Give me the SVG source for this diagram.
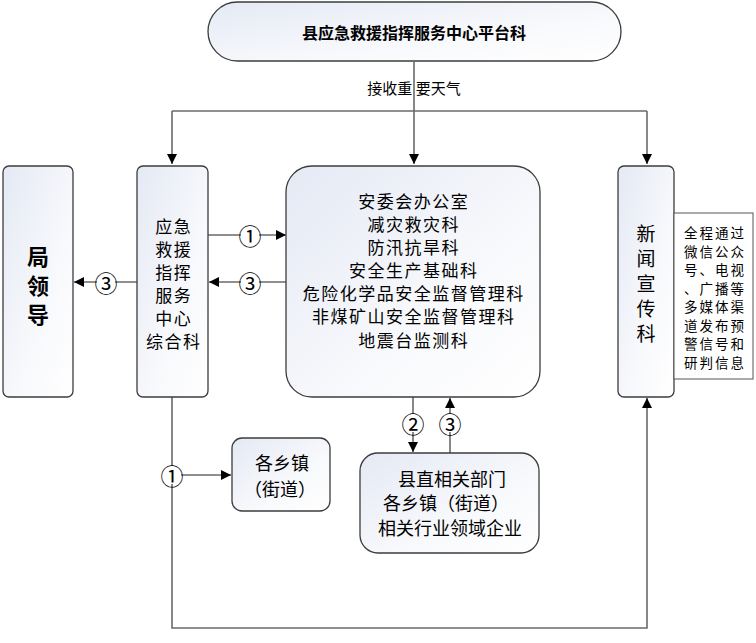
<svg xmlns="http://www.w3.org/2000/svg" width="756" height="643" viewBox="0 0 756 643">
<defs>
<linearGradient id="g" x1="0" y1="0" x2="1" y2="1">
<stop offset="0" stop-color="#e4e9f4"/>
<stop offset="0.6" stop-color="#f8f9fc"/>
<stop offset="1" stop-color="#ffffff"/>
</linearGradient>
<marker id="ah" viewBox="0 0 10 10" refX="10" refY="5" markerWidth="10" markerHeight="10" markerUnits="userSpaceOnUse" orient="auto">
<path d="M0,0 L10,5 L0,10 z" fill="#000"/>
</marker>
<style>
.n{fill:url(#g);stroke:#3c3c3c;stroke-width:1.3}
.c{fill:none;stroke:#6a6a6a;stroke-width:1.6}
.t{font-family:"Noto Sans CJK SC","Noto Sans",sans-serif;fill:#000;text-anchor:middle;dominant-baseline:central}
.num{font-family:"Noto Sans CJK SC",sans-serif;font-size:23px}
.m{font-size:17px;letter-spacing:1.5px}
.note{font-size:13.5px;letter-spacing:2px}
.lb{fill:#fff}
</style>
</defs>
<rect width="756" height="643" fill="#fff"/>
<g id="connectors">
<path class="c" d="M414,62 V164" marker-end="url(#ah)"/>
<path class="c" d="M172,111 H647"/>
<path class="c" d="M172,111 V164" marker-end="url(#ah)"/>
<path class="c" d="M647,111 V164" marker-end="url(#ah)"/>
<path class="c" d="M208,235 H286" marker-end="url(#ah)"/>
<path class="c" d="M286,282 H209" marker-end="url(#ah)"/>
<path class="c" d="M137,282 H74" marker-end="url(#ah)"/>
<path class="c" d="M413,397 V452" marker-end="url(#ah)"/>
<path class="c" d="M450,453 V398" marker-end="url(#ah)"/>
<path class="c" d="M172,397 V628 H647 V398" marker-end="url(#ah)"/>
<path class="c" d="M172,475 H231" marker-end="url(#ah)"/>
<text class="t" x="414" y="87" font-size="15">接收重  要天气</text>
<rect class="lb" x="241" y="226" width="18" height="18"/>
<text class="t num" x="250" y="235">①</text>
<rect class="lb" x="241" y="273" width="18" height="18"/>
<text class="t num" x="250" y="282">③</text>
<rect class="lb" x="97" y="273" width="18" height="18"/>
<text class="t num" x="106" y="282">③</text>
<rect class="lb" x="404" y="414" width="18" height="18"/>
<text class="t num" x="413" y="423">②</text>
<rect class="lb" x="441" y="414" width="18" height="18"/>
<text class="t num" x="450" y="423">③</text>
<rect class="lb" x="163" y="466" width="18" height="18"/>
<text class="t num" x="172" y="475">①</text>
</g>
<g id="top">
<rect class="n" x="208" y="2" width="413" height="59" rx="29.5"/>
<text class="t" x="414" y="32" font-size="16" font-weight="bold">县应急救援指挥服务中心平台科</text>
</g>
<g id="leader">
<rect class="n" x="3" y="166" width="70" height="231" rx="6"/>
<text class="t" x="38" y="255" font-size="22" font-weight="bold">局</text>
<text class="t" x="38" y="284" font-size="22" font-weight="bold">领</text>
<text class="t" x="38" y="313" font-size="22" font-weight="bold">导</text>
</g>
<g id="zonghe">
<rect class="n" x="137" y="166" width="71" height="231" rx="6"/>
<text class="t m" x="173.7" y="225">应急</text>
<text class="t m" x="173.7" y="248">救援</text>
<text class="t m" x="173.7" y="271">指挥</text>
<text class="t m" x="173.7" y="294">服务</text>
<text class="t m" x="173.7" y="317">中心</text>
<text class="t m" x="173.7" y="340">综合科</text>
</g>
<g id="main">
<rect class="n" x="286" y="166" width="254" height="231" rx="26"/>
<text class="t m" x="413.7" y="200">安委会办公室</text>
<text class="t m" x="413.7" y="223">减灾救灾科</text>
<text class="t m" x="413.7" y="246">防汛抗旱科</text>
<text class="t m" x="413.7" y="269">安全生产基础科</text>
<text class="t m" x="413.7" y="292">危险化学品安全监督管理科</text>
<text class="t m" x="413.7" y="315">非煤矿山安全监督管理科</text>
<text class="t m" x="413.7" y="339">地震台监测科</text>
</g>
<g id="news">
<rect class="n" x="618" y="166" width="56" height="231" rx="6"/>
<text class="t" x="646" y="232" font-size="19">新</text>
<text class="t" x="646" y="257" font-size="19">闻</text>
<text class="t" x="646" y="282" font-size="19">宣</text>
<text class="t" x="646" y="307" font-size="19">传</text>
<text class="t" x="646" y="332" font-size="19">科</text>
</g>
<g id="note">
<rect x="674" y="213" width="79" height="166" fill="#fff" stroke="#555" stroke-width="1"/>
<text class="t note" x="715" y="232">全程通过</text>
<text class="t note" x="715" y="250.5">微信公众</text>
<text class="t note" x="715" y="269">号、电视</text>
<text class="t note" x="715" y="287.5">、广播等</text>
<text class="t note" x="715" y="306">多媒体渠</text>
<text class="t note" x="715" y="324.5">道发布预</text>
<text class="t note" x="715" y="343">警信号和</text>
<text class="t note" x="715" y="361.5">研判信息</text>
</g>
<g id="towns">
<rect class="n" x="232" y="438" width="98" height="73" rx="10"/>
<text class="t" x="282" y="462" font-size="18">各乡镇</text>
<text class="t" x="280" y="488" font-size="18">（街道）</text>
</g>
<g id="depts">
<rect class="n" x="360" y="453" width="179" height="100" rx="18"/>
<text class="t" x="452" y="478" font-size="18">县直相关部门</text>
<text class="t" x="446" y="502" font-size="18">各乡镇（街道）</text>
<text class="t" x="450" y="527" font-size="18">相关行业领域企业</text>
</g>
</svg>
